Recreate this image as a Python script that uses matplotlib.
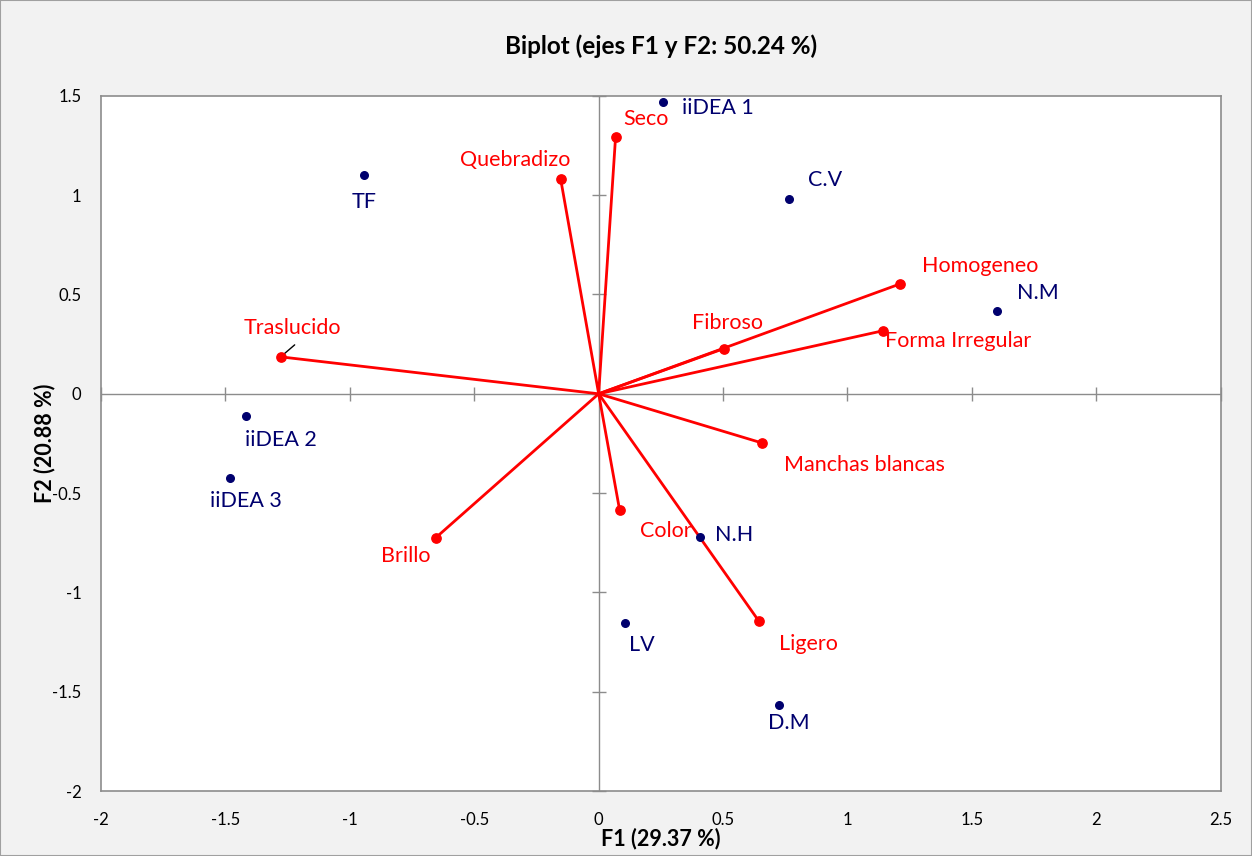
import numpy as np
import matplotlib.pyplot as plt
from matplotlib.patches import Rectangle

# Observations (blue points)
obs_names = ["iiDEA 1", "TF", "C.V", "N.M", "iiDEA 2", "iiDEA 3", "N.H", "LV", "D.M"]
obs_f1 = [0.257, -0.944, 0.763, 1.600, -1.418, -1.483, 0.406, 0.104, 0.723]
obs_f2 = [1.470, 1.100, 0.980, 0.418, -0.111, -0.423, -0.720, -1.153, -1.566]

# Variables (red vectors)
var_names = ["Seco", "Quebradizo", "Homogeneo", "Forma Irregular", "Fibroso",
             "Traslucido", "Manchas blancas", "Color", "Brillo", "Ligero"]
var_f1 = [0.068, -0.153, 1.213, 1.141, 0.502, -1.278, 0.655, 0.084, -0.655, 0.643]
var_f2 = [1.294, 1.083, 0.554, 0.317, 0.227, 0.186, -0.247, -0.584, -0.725, -1.143]

x_ticks = [-2, -1.5, -1, -0.5, 0, 0.5, 1, 1.5, 2, 2.5]
y_ticks = [-2, -1.5, -1, -0.5, 0, 0.5, 1, 1.5]

# label offsets in pixels (label centre relative to point)
obs_off = [(55, -6), (0, -27), (37, 19), (41, 18), (35, -24), (16, -23),
           (34, 2), (17, -22), (10, -18)]
var_off = [(30, 18), (-45, 19), (80, 18), (76, -10), (4, 26), (12, 29),
           (103, -22), (46, -21), (-30, -18), (50, -23)]

plt.rcParams['font.family'] = ['Lato', 'DejaVu Sans']

fig = plt.figure(figsize=(12.52, 8.56), dpi=100, facecolor='#f2f2f2')
fig.patches.append(Rectangle((0, 0), 1, 1, transform=fig.transFigure,
                             fill=False, edgecolor='#a0a0a0', lw=1.5))
ax = fig.add_axes([0.0807, 0.0759, 0.8943, 0.8121])
ax.set_facecolor('white')
ax.set_xlim(-2, 2.5)
ax.set_ylim(-2, 1.5)
for s in ax.spines.values():
    s.set_color('#8c8c8c')
    s.set_linewidth(1.2)

ax.set_xticks(x_ticks)
ax.set_yticks(y_ticks)
ax.set_xticklabels([f"{v:g}" for v in x_ticks], fontsize=12)
ax.set_yticklabels([f"{v:g}" for v in y_ticks], fontsize=12)
ax.tick_params(length=0, pad=14)
ax.tick_params(axis='x', pad=15)

# zero axes with small cross ticks, Excel style
ax.axhline(0, color='#8c8c8c', lw=1)
ax.axvline(0, color='#8c8c8c', lw=1)
ax.plot(x_ticks, [0] * len(x_ticks), ls='none', marker='|', ms=10,
        mew=1, color='#8c8c8c', clip_on=False)
ax.plot([0] * len(y_ticks), y_ticks, ls='none', marker='_', ms=10,
        mew=1, color='#8c8c8c', clip_on=False)

red = '#ff0000'
navy = '#00006e'

for x, y in zip(var_f1, var_f2):
    ax.plot([0, x], [0, y], color=red, lw=2, zorder=3)
ax.scatter(var_f1, var_f2, s=45, color=red, zorder=4)
ax.scatter(obs_f1, obs_f2, s=30, color=navy, zorder=4)

for name, x, y, (dx, dy) in zip(obs_names, obs_f1, obs_f2, obs_off):
    ax.annotate(name, (x, y), xytext=(dx, dy), textcoords='offset pixels',
                ha='center', va='center', color=navy, fontsize=15.5)

for name, x, y, (dx, dy) in zip(var_names, var_f1, var_f2, var_off):
    ax.annotate(name, (x, y), xytext=(dx, dy), textcoords='offset pixels',
                ha='center', va='center', color=red, fontsize=15.5)
    if name == "Traslucido":
        # short leader line from the label to its point
        ax.annotate('', (x, y), xytext=(14, 12), textcoords='offset pixels',
                    arrowprops=dict(arrowstyle='-', color='black', lw=1,
                                    shrinkA=0, shrinkB=3))

ax.set_title("Biplot (ejes F1 y F2: 50.24 %)", fontsize=17.5, fontweight='bold', pad=30)
ax.set_xlabel("F1 (29.37 %)", fontsize=15.5, fontweight='bold', labelpad=0)
ax.set_ylabel("F2 (20.88 %)", fontsize=15.5, fontweight='bold', labelpad=-2)

fig.savefig('out.png', dpi=100, facecolor=fig.get_facecolor())
